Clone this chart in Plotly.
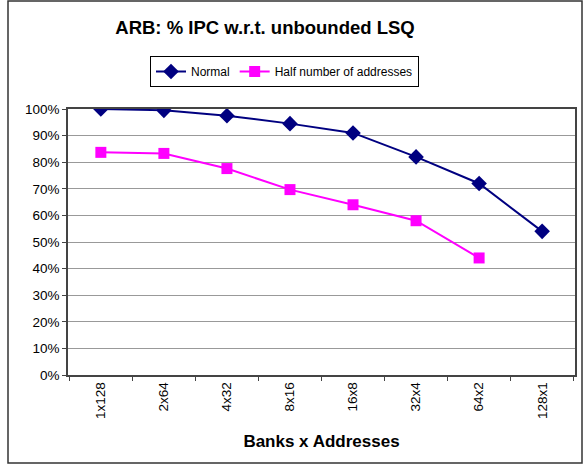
import plotly.graph_objects as go

categories = ["1x128", "2x64", "4x32", "8x16", "16x8", "32x4", "64x2", "128x1"]
normal = [1.00, 0.995, 0.975, 0.945, 0.91, 0.82, 0.72, 0.54]
half = [0.837, 0.833, 0.776, 0.697, 0.64, 0.58, 0.44, None]

W, H = 588, 465
L, R, T, B = 68, 575, 109, 375
pw, ph = R - L, B - T

def px(x):
    return (x - L) / pw

def py(y):
    return (B - y) / ph

fig = go.Figure()
fig.add_trace(go.Scatter(x=categories, y=normal, name="Normal", mode="lines+markers",
                         line=dict(color="#000080", width=2),
                         marker=dict(symbol="diamond", size=12, color="#000080")))
fig.add_trace(go.Scatter(x=categories, y=half, name="Half number of addresses", mode="lines+markers",
                         line=dict(color="#FF00FF", width=2),
                         marker=dict(symbol="square", size=11, color="#FF00FF")))

fig.update_layout(
    width=W, height=H,
    margin=dict(l=L, r=W - R, t=T, b=H - B),
    paper_bgcolor="white", plot_bgcolor="white",
    font=dict(family="Arial, Liberation Sans, sans-serif", size=13, color="black"),
    title=dict(text="<b>ARB: % IPC w.r.t. unbounded LSQ</b>", x=px(265), xref="paper", xanchor="center",
               y=1 - 28 / H, yanchor="middle", font=dict(size=18.5)),
    showlegend=True,
    legend=dict(orientation="h", x=px(150), y=py(56), xanchor="left", yanchor="top",
                bordercolor="black", borderwidth=1, font=dict(size=12),
                itemwidth=30, tracegroupgap=0),
    xaxis=dict(type="category", tickangle=-90, ticks="outside", ticklen=4, tickson="boundaries",
               showline=True, linecolor="#444", linewidth=1.5, mirror=True, showgrid=False,
               title=dict(text="<b>Banks x Addresses</b>", font=dict(size=17), standoff=17),
               tickfont=dict(size=13.5)),
    yaxis=dict(range=[0, 1], dtick=0.1, tickformat=".0%", ticks="outside", ticklen=4,
               showline=True, linecolor="#444", linewidth=1.5, mirror=True,
               showgrid=True, gridcolor="#999", gridwidth=1, zeroline=False,
               tickfont=dict(size=13.5)),
)

fig.add_shape(type="rect", xref="paper", yref="paper",
              x0=px(8), x1=px(582), y0=py(463), y1=py(1),
              line=dict(color="#333", width=1.5), fillcolor="rgba(0,0,0,0)", layer="below")

fig.write_html("out.html")
